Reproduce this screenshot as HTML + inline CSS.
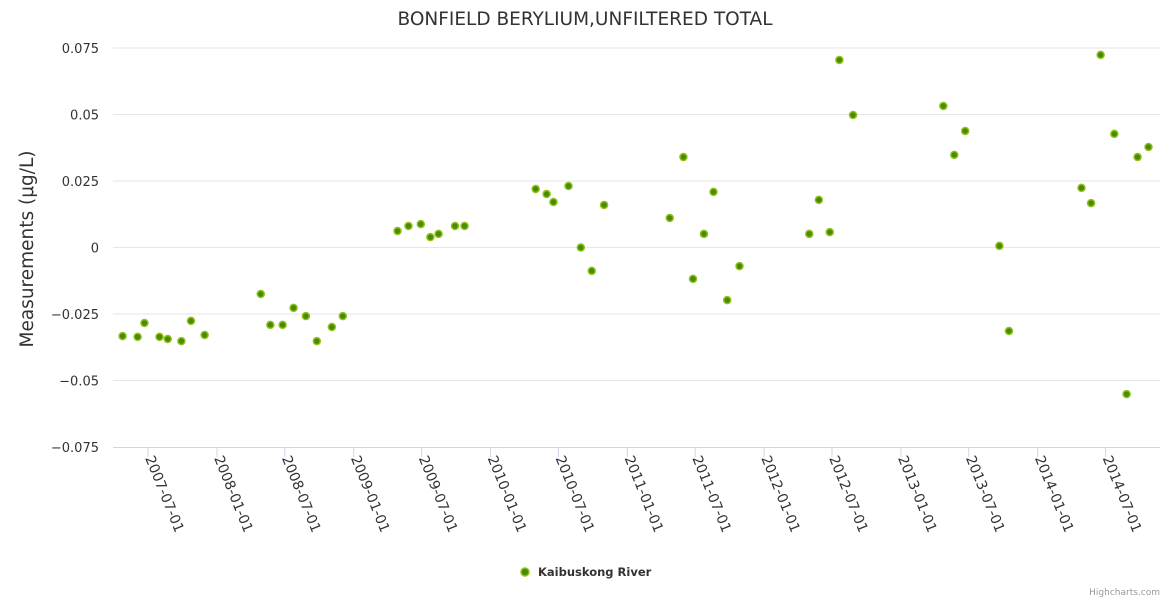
<!DOCTYPE html>
<html><head><meta charset="utf-8"><style>
body{margin:0;background:#fff;font-family:"DejaVu Sans","Liberation Sans",sans-serif}
</style></head><body>
<svg id="c" width="1170" height="600" xmlns="http://www.w3.org/2000/svg" font-family="DejaVu Sans, Liberation Sans, sans-serif">
<text x="585" y="25" text-anchor="middle" font-size="18.5" fill="#333">BONFIELD BERYLIUM,UNFILTERED TOTAL</text>
<text transform="translate(33,249) rotate(-90)" text-anchor="middle" font-size="18.5" fill="#333">Measurements (μg/L)</text>
<g id="grid"></g><g id="xax"></g><g id="pts"></g>
<g>
<circle cx="525" cy="572" r="4" fill="#4a8a00" stroke="#8ec21a" stroke-width="1.5"/>
<text x="538" y="576" font-size="11.5" font-weight="bold" fill="#333">Kaibuskong River</text>
</g>
<text x="1160" y="595" text-anchor="end" font-size="9" fill="#999">Highcharts.com</text>
</svg>
<script>
const yTicks=[0.075,0.05,0.025,0,-0.025,-0.05,-0.075];
const yTickLabels=["0.075","0.05","0.025","0","−0.025","−0.05","−0.075"];
const xTicks=[2007.496,2008,2008.496,2009,2009.496,2010,2010.496,2011,2011.496,2012,2012.496,2013,2013.496,2014,2014.496];
const xTickLabels=["2007-07-01","2008-01-01","2008-07-01","2009-01-01","2009-07-01","2010-01-01","2010-07-01","2011-01-01","2011-07-01","2012-01-01","2012-07-01","2013-01-01","2013-07-01","2014-01-01","2014-07-01"];
const dates=[2007.31,2007.42,2007.47,2007.58,2007.64,2007.74,2007.81,2007.91,
2008.32,2008.39,2008.48,2008.56,2008.65,2008.73,2008.84,2008.92,
2009.32,2009.40,2009.49,2009.56,2009.62,2009.74,2009.81,
2010.33,2010.41,2010.46,2010.57,2010.66,2010.74,2010.83,
2011.31,2011.41,2011.48,2011.56,2011.63,2011.73,2011.82,
2012.33,2012.40,2012.48,2012.55,2012.65,
2013.31,2013.39,2013.47,2013.72,2013.79,
2014.32,2014.39,2014.46,2014.56,2014.65,2014.73,2014.81];
const values=[-0.0333,-0.0336,-0.0284,-0.0336,-0.0344,-0.0352,-0.0276,-0.0329,
-0.0175,-0.0291,-0.0291,-0.0227,-0.0258,-0.0352,-0.0299,-0.0258,
0.0062,0.0081,0.0088,0.0039,0.0051,0.0081,0.0081,
0.0220,0.0201,0.0171,0.0231,0.0000,-0.0088,0.0160,
0.0111,0.0340,-0.0118,0.0051,0.0209,-0.0198,-0.0070,
0.0051,0.0179,0.0058,0.0705,0.0498,
0.0532,0.0348,0.0438,0.0006,-0.0314,
0.0224,0.0167,0.0724,0.0427,-0.0551,0.0340,0.0378];
const L=113,R=1160,T=48,B=447;
const x0=2007.24,x1=2014.894;
const xs=v=>L+(v-x0)/(x1-x0)*(R-L);
const ys=v=>T+(0.075-v)/0.15*(B-T);
const NS="http://www.w3.org/2000/svg";
function mk(tag,attrs,parent){const e=document.createElementNS(NS,tag);for(const k in attrs)e.setAttribute(k,attrs[k]);parent.appendChild(e);return e;}
const grid=document.getElementById('grid'),xax=document.getElementById('xax'),pts=document.getElementById('pts');
yTicks.forEach((t,i)=>{
 if(i<yTicks.length-1){const g=mk('line',{x1:L,x2:R,y1:ys(t),y2:ys(t),stroke:'#e6e6e6'},grid);
 
 }
 const tx=mk('text',{x:99,y:ys(t)+5,'text-anchor':'end','font-size':13,fill:'#333'},grid);
 tx.textContent=yTickLabels[i];
 
 
});
const ax=mk('line',{x1:L,x2:R,y1:B+0.5,y2:B+0.5,stroke:'#ccd6eb'},xax);


xTicks.forEach((t,i)=>{
 const x=xs(t);
 const tk=mk('line',{x1:x,x2:x,y1:B,y2:B+10,stroke:'#ccd6eb'},xax);
 
 
 const tx=mk('text',{x:0,y:0,'font-size':14,fill:'#333',transform:`translate(${x-3},${B+11}) rotate(68)`},xax);
 tx.textContent=xTickLabels[i];
 
 
});
dates.forEach((d,i)=>{
 const c=mk('circle',{cx:xs(d),cy:ys(values[i]),r:3.5,fill:'#4a8a00',stroke:'#8ec21a','stroke-width':1.5},pts);
 
 
});
</script>
</body></html>
